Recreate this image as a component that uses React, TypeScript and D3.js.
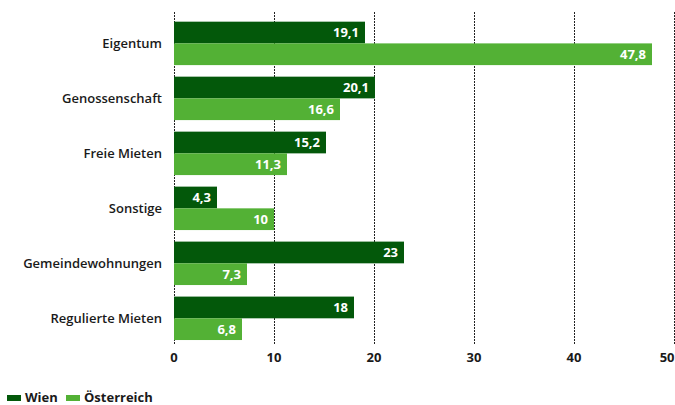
import React from "react";
import * as d3 from "d3";

const categories = ["Eigentum", "Genossenschaft", "Freie Mieten", "Sonstige", "Gemeindewohnungen", "Regulierte Mieten"];
const wien = [19.1, 20.1, 15.2, 4.3, 23, 18];
const oesterreich = [47.8, 16.6, 11.3, 10, 7.3, 6.8];
const seriesNames = ["Wien", "Österreich"];
const tickValues = [0, 10, 20, 30, 40, 50];

const colors = ["#03580a", "#53b135"];
const W = 675, H = 405;
const FONT = "'Open Sans', 'DejaVu Sans', sans-serif";

const fmt = (v: number) => String(v).replace(".", ",");

export default function App() {
  const x = d3.scaleLinear().domain([0, 50]).range([174, 674]);
  const y = d3.scaleBand<string>().domain(categories).range([15.9, 345.8]).paddingInner(0.21).paddingOuter(0.105);
  const inner = d3.scaleBand<number>().domain([0, 1]).range([0, y.bandwidth()]);
  const seriesData = [wien, oesterreich];
  const top = 12, bottom = 345;

  return (
    <svg width={W} height={H} style={{ position: "absolute", left: 0, top: 0 }} fontFamily={FONT}>
      <rect width={W} height={H} fill="#fff" />
      {tickValues.map((t, idx) => {
        const last = idx === tickValues.length - 1;
        return (
          <g key={t}>
            <line x1={x(t) + 0.5} x2={x(t) + 0.5} y1={top} y2={bottom} stroke="#222" strokeWidth={1} strokeDasharray="2,1" />
            <text x={last ? W - 0.5 : x(t)} y={362} textAnchor={last ? "end" : "middle"} fontSize={13} fontWeight={700} fill="#1a1a1a">{t}</text>
          </g>
        );
      })}
      {categories.map((c, i) => (
        <g key={c}>
          <text x={162} y={(y(c) as number) + y.bandwidth() / 2 + 4.5} textAnchor="end" fontSize={13} fontWeight={600} fill="#1a1a1a">{c}</text>
          {seriesData.map((s, k) => {
            const y0 = (y(c) as number) + (inner(k) as number);
            const h = inner.bandwidth();
            return (
              <g key={k}>
                <rect x={x(0)} y={y0} width={x(s[i]) - x(0)} height={h} fill={colors[k]} />
                <text x={x(s[i]) - 6} y={y0 + h / 2 + 4.5} textAnchor="end" fontSize={13} fontWeight={700} fill="#fff">{fmt(s[i])}</text>
              </g>
            );
          })}
        </g>
      ))}
      <g>
        <rect x={7} y={395} width={14} height={6} fill={colors[0]} />
        <text x={25} y={402} fontSize={13} fontWeight={700} fill="#1a1a1a">{seriesNames[0]}</text>
        <rect x={66} y={395} width={14} height={6} fill={colors[1]} />
        <text x={84} y={402} fontSize={13} fontWeight={700} fill="#1a1a1a">{seriesNames[1]}</text>
      </g>
    </svg>
  );
}
